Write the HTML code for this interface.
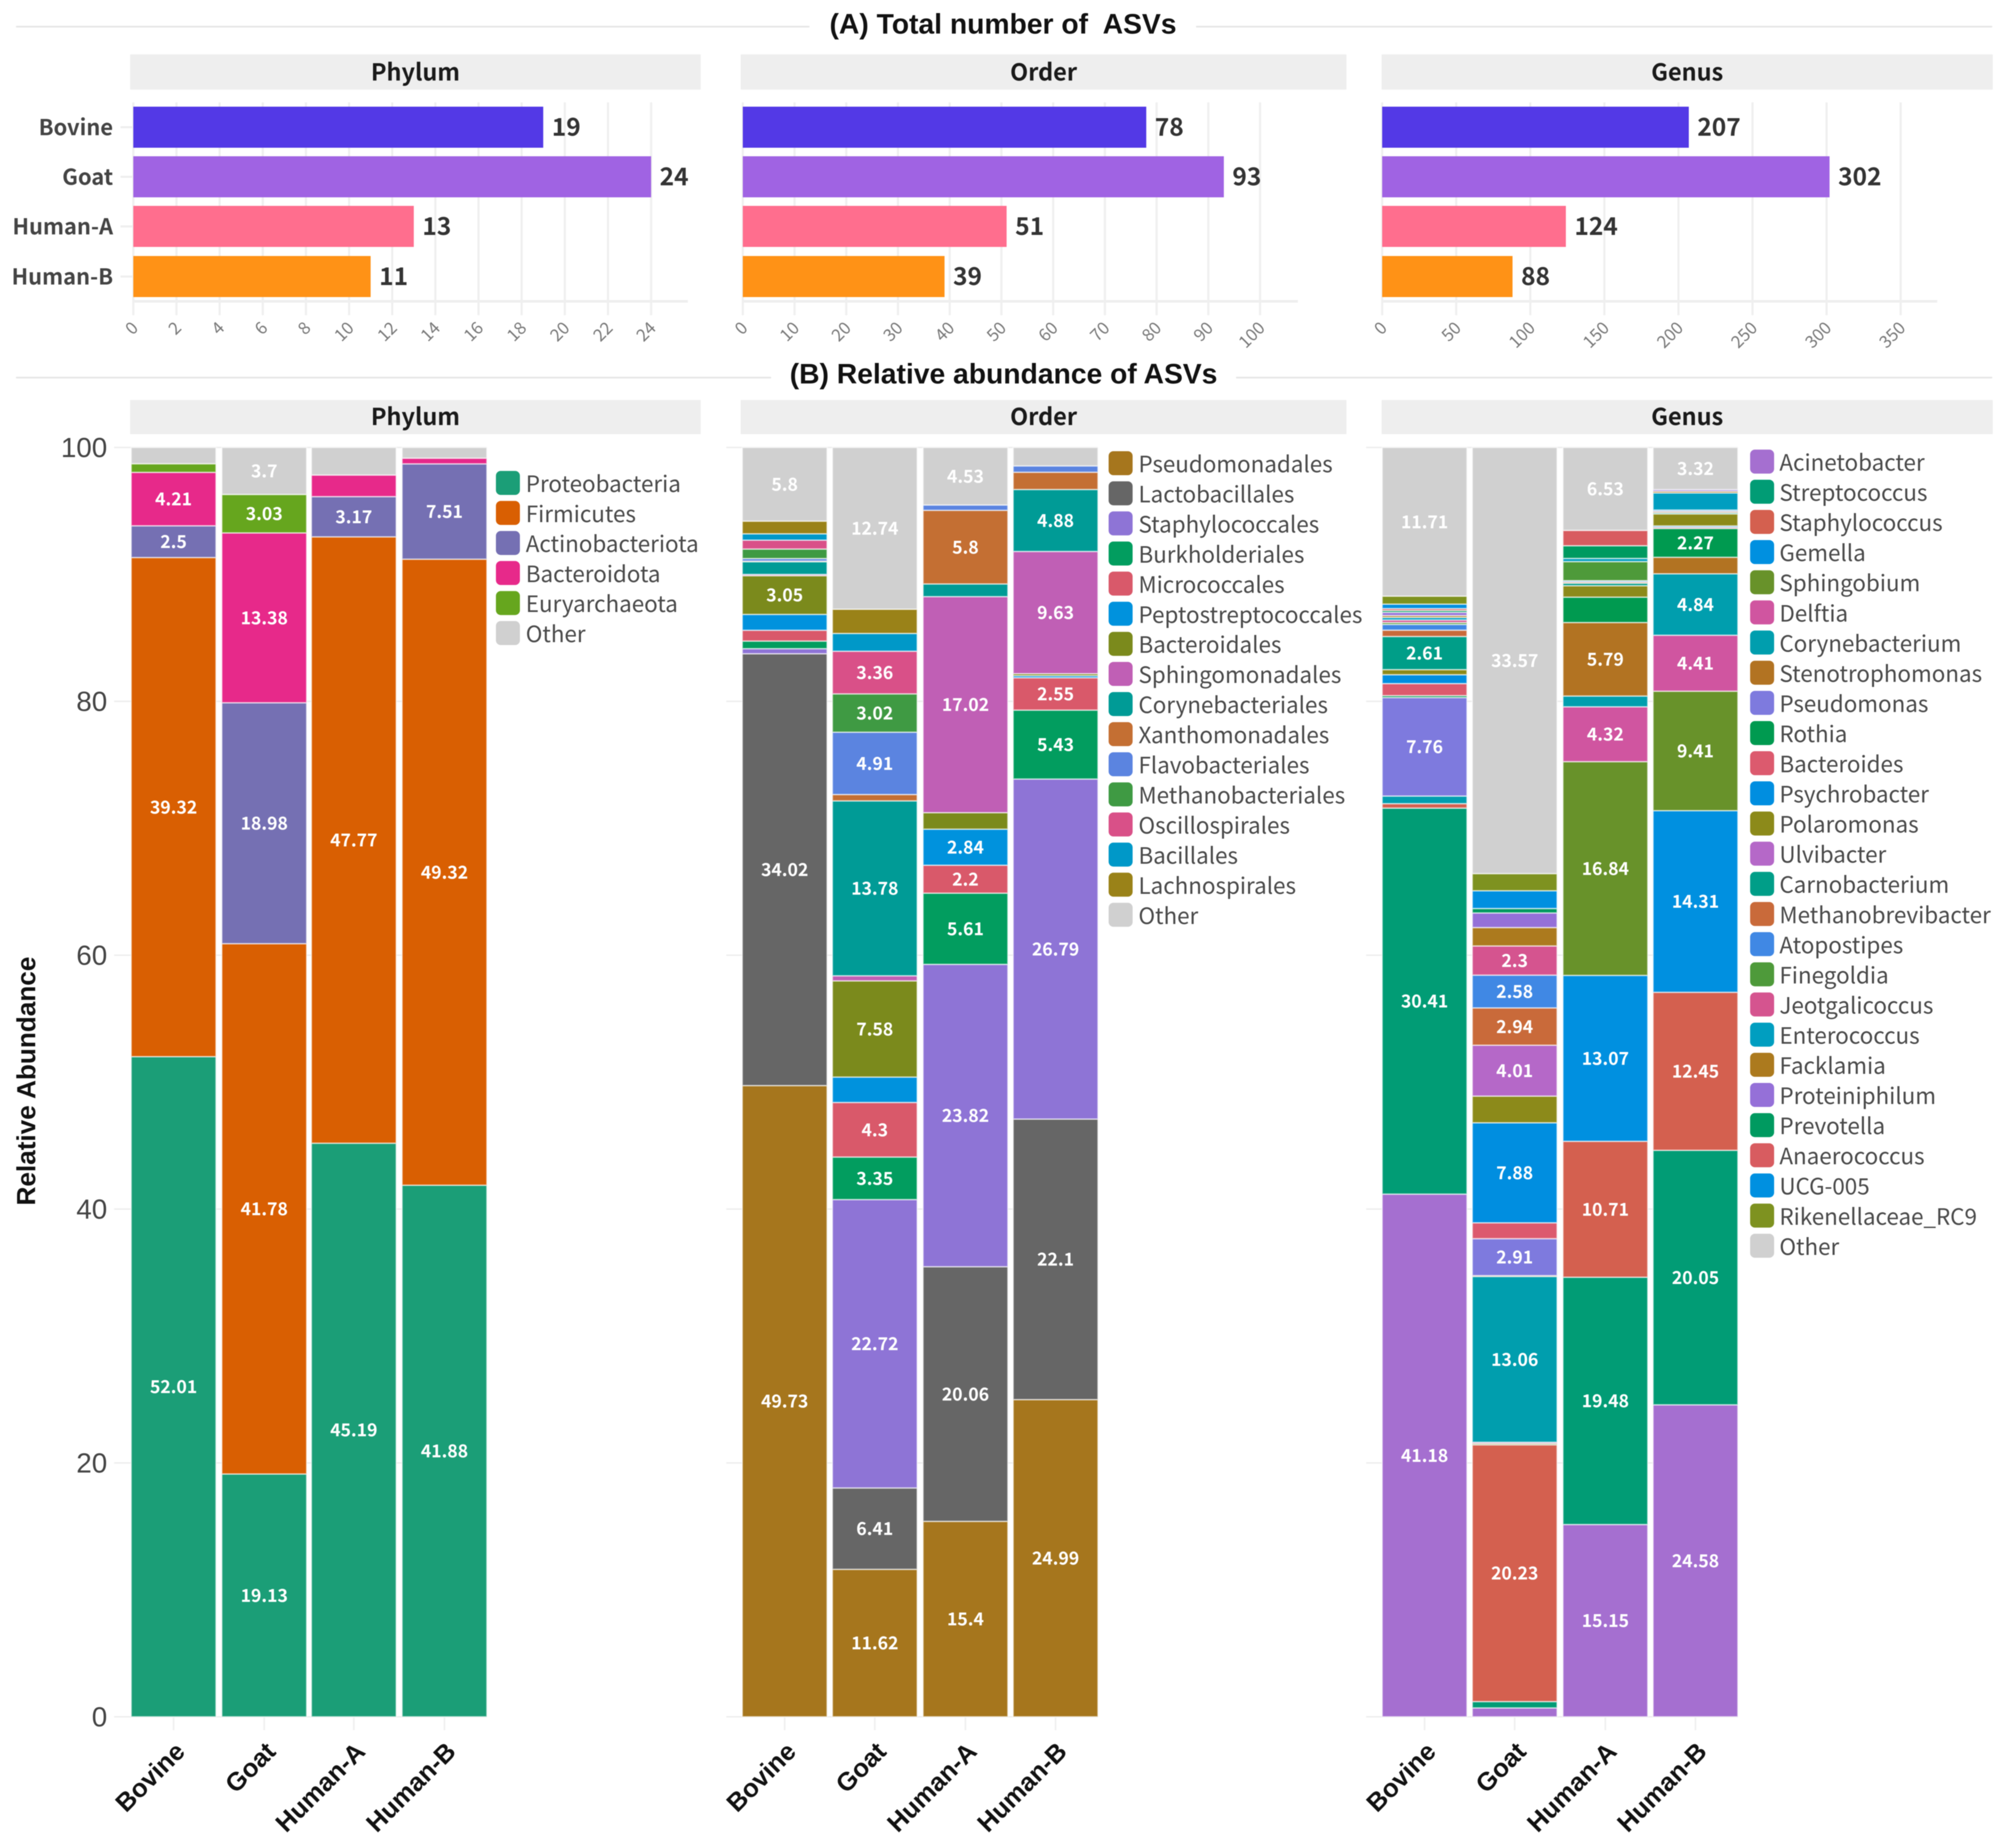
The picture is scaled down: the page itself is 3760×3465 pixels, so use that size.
<!DOCTYPE html>
<html lang="en">
<head>
<meta charset="utf-8">
<title>ASV totals and relative abundance</title>
<style>
html,body{margin:0;padding:0;background:#fff;width:3760px;height:3465px;overflow:hidden}
svg{display:block;filter:blur(0.9px)}
.cjk{font-family:"Noto Sans CJK JP","Liberation Sans",sans-serif}
.lib{font-family:"Liberation Sans",sans-serif}
</style>
</head>
<body>
<svg id="fig" xmlns="http://www.w3.org/2000/svg" width="3760" height="3465" viewBox="0 0 3760 3465">
  <rect x="0" y="0" width="3760" height="3465" fill="#ffffff"/>
  <line x1="30" x2="1518" y1="50" y2="50" stroke="#e6e6e6" stroke-width="3"/>
  <line x1="2243" x2="3736" y1="50" y2="50" stroke="#e6e6e6" stroke-width="3"/>
  <text class="lib" x="1881" y="63" font-size="53" font-weight="700" text-anchor="middle" fill="#111" style="white-space:pre">(A) Total number of  ASVs</text>
  <line x1="30" x2="1446" y1="708" y2="708" stroke="#e6e6e6" stroke-width="3"/>
  <line x1="2318" x2="3736" y1="708" y2="708" stroke="#e6e6e6" stroke-width="3"/>
  <text class="lib" x="1882" y="719" font-size="53" font-weight="700" text-anchor="middle" fill="#111" style="white-space:pre">(B) Relative abundance of ASVs</text>
  <text class="lib" transform="translate(66,2027) rotate(-90)" font-size="49" font-weight="700" text-anchor="middle" fill="#111">Relative Abundance</text>
  <g id="layer"></g>
</svg>
<script>
// ---- shared categories ----
const hosts = ["Bovine", "Goat", "Human-A", "Human-B"];
const hostColors = ["#5339e6", "#a063e3", "#ff6e8e", "#ff9216"];
const facetNames = ["Phylum", "Order", "Genus"];

// ---- (A) totals ----
const countPhylum = [19, 24, 13, 11];
const countOrder = [78, 93, 51, 39];
const countGenus = [207, 302, 124, 88];
const ticksPhylum = [0, 2, 4, 6, 8, 10, 12, 14, 16, 18, 20, 22, 24];
const ticksOrder = [0, 10, 20, 30, 40, 50, 60, 70, 80, 90, 100];
const ticksGenus = [0, 50, 100, 150, 200, 250, 300, 350];

// ---- (B) relative abundance axis ----
const abundanceTicks = [0, 20, 40, 60, 80, 100];

// ---- (B) Phylum ----
const phylumTaxa = ["Proteobacteria", "Firmicutes", "Actinobacteriota", "Bacteroidota", "Euryarchaeota", "Other"];
const phylumColors = ["#1b9e77", "#d95f02", "#7570b3", "#e7298a", "#66a61e", "#d0d0d0"];
const phylumBovine = [52.01, 39.32, 2.5, 4.21, 0.68, 1.28];
const phylumGoat = [19.13, 41.78, 18.98, 13.38, 3.03, 3.7];
const phylumHumanA = [45.19, 47.77, 3.17, 1.7, 0, 2.17];
const phylumHumanB = [41.88, 49.32, 7.51, 0.45, 0, 0.84];

// ---- (B) Order ----
const orderTaxa = ["Pseudomonadales", "Lactobacillales", "Staphylococcales", "Burkholderiales", "Micrococcales", "Peptostreptococcales", "Bacteroidales", "Sphingomonadales", "Corynebacteriales", "Xanthomonadales", "Flavobacteriales", "Methanobacteriales", "Oscillospirales", "Bacillales", "Lachnospirales", "Other"];
const orderColors = ["#a6761d", "#666666", "#8e74d6", "#029d5f", "#d9596a", "#0092dd", "#7b8a1c", "#c05fb5", "#009b96", "#c46f33", "#5b84e0", "#3f9a43", "#d95088", "#0098c8", "#9a8218", "#d0d0d0"];
const orderBovine = [49.73, 34.02, 0.4, 0.6, 0.85, 1.25, 3.05, 0.1, 1.0, 0.05, 0.2, 0.75, 0.7, 0.5, 1.0, 5.8];
const orderGoat = [11.62, 6.41, 22.72, 3.35, 4.3, 2.0, 7.58, 0.4, 13.78, 0.5, 4.91, 3.02, 3.36, 1.4, 1.91, 12.74];
const orderHumanA = [15.4, 20.06, 23.82, 5.61, 2.2, 2.84, 1.3, 17.02, 1.0, 5.8, 0.42, 0, 0, 0, 0, 4.53];
const orderHumanB = [24.99, 22.1, 26.79, 5.43, 2.55, 0.16, 0.16, 9.63, 4.88, 1.36, 0.5, 0, 0, 0, 0, 1.45];

// ---- (B) Genus ----
const genusTaxa = ["Acinetobacter", "Streptococcus", "Staphylococcus", "Gemella", "Sphingobium", "Delftia", "Corynebacterium", "Stenotrophomonas", "Pseudomonas", "Rothia", "Bacteroides", "Psychrobacter", "Polaromonas", "Ulvibacter", "Carnobacterium", "Methanobrevibacter", "Atopostipes", "Finegoldia", "Jeotgalicoccus", "Enterococcus", "Facklamia", "Proteiniphilum", "Prevotella", "Anaerococcus", "UCG-005", "Rikenellaceae_RC9", "Other"];
const genusColors = ["#a56fd0", "#019c75", "#d4604f", "#0090e0", "#68922a", "#d055a0", "#009eae", "#b27322", "#7e7ade", "#009a50", "#dc5a6e", "#008ee0", "#8c8a1a", "#b568c8", "#009e88", "#c96a3a", "#4088e4", "#4e9a3a", "#d5548f", "#009ec0", "#ac7a1e", "#9570d8", "#009a60", "#d85c60", "#0090e0", "#7e9220", "#d0d0d0"];
const genusBovine = [41.18, 30.41, 0.35, 0, 0, 0, 0.6, 0, 7.76, 0.15, 0.95, 0.7, 0.4, 0, 2.61, 0.5, 0.45, 0.15, 0.2, 0.2, 0.15, 0.25, 0.15, 0.15, 0.35, 0.63, 11.71];
const genusGoat = [0.7, 0.5, 20.23, 0, 0.1, 0.1, 13.06, 0.07, 2.91, 0, 1.25, 7.88, 2.1, 4.01, 0, 2.94, 2.58, 0, 2.3, 0, 1.45, 1.15, 0.35, 0, 1.4, 1.35, 33.57];
const genusHumanA = [15.15, 19.48, 10.71, 13.07, 16.84, 4.32, 0.85, 5.79, 0, 2.0, 0, 0, 0.9, 0, 0.2, 0.1, 0.1, 1.5, 0, 0.25, 0, 0, 1.0, 1.21, 0, 0, 6.53];
const genusHumanB = [24.58, 20.05, 12.45, 14.31, 9.41, 4.41, 4.84, 1.3, 0, 2.27, 0.1, 0.1, 0.95, 0, 0.1, 0.1, 0.1, 0, 0, 1.35, 0.13, 0.13, 0, 0, 0, 0, 3.32];

const countSets = [countPhylum, countOrder, countGenus];
const tickSets = [ticksPhylum, ticksOrder, ticksGenus];
const taxaSets = [phylumTaxa, orderTaxa, genusTaxa];
const colorSets = [phylumColors, orderColors, genusColors];
const stackSets = [
  [phylumBovine, phylumGoat, phylumHumanA, phylumHumanB],
  [orderBovine, orderGoat, orderHumanA, orderHumanB],
  [genusBovine, genusGoat, genusHumanA, genusHumanB]
];

// ---- layout ----
const SVGNS = "http://www.w3.org/2000/svg";
const layer = document.getElementById("layer");
const GRID = "#efefef";
const panelLayout = [
  { stripL: 244, stripR: 1314, x0: 250, unit: 40.46, axisR: 1290, barL: [246, 416, 584, 754], legendSw: 930, legendTx: 986, legendTop: 883, legendStep: 56.3 },
  { stripL: 1389, stripR: 2525, x0: 1393, unit: 9.70, axisR: 2434, barL: [1392, 1561, 1731, 1900], legendSw: 2079, legendTx: 2135, legendTop: 846, legendStep: 56.45 },
  { stripL: 2591, stripR: 3737, x0: 2592, unit: 2.778, axisR: 3633, barL: [2592, 2761, 2931, 3100], legendSw: 3282, legendTx: 3337, legendTop: 843, legendStep: 56.55 }
];
const BAR_W = 159;
const hBarTop = [200, 293, 386, 480];
const hBarH = 77;
const yAbund = v => 3219 - v * 23.8;

function mk(tag, attrs, parent, text) {
  const el = document.createElementNS(SVGNS, tag);
  for (const k in attrs) el.setAttribute(k, attrs[k]);
  if (text !== undefined) el.textContent = text;
  (parent || layer).appendChild(el);
  return el;
}

facetNames.forEach((facet, p) => {
  const L = panelLayout[p];
  const key = facet.toLowerCase();
  const xA = v => L.x0 + v * L.unit;

  // strips
  [[102, 66, 132, "a"], [750, 64, 778, "b"]].forEach(s => {
    const strip = mk("rect", { x: L.stripL, y: s[0], width: L.stripR - L.stripL, height: s[1], fill: "#eeeeee" });
    
    
    const st = mk("text", { x: (L.stripL + L.stripR) / 2, y: s[2], "font-size": 44, "font-weight": 700, "text-anchor": "middle", "dominant-baseline": "central", fill: "#1a1a1a", class: "cjk" }, layer, facet);
    
    
  });

  // (A) grid + ticks
  tickSets[p].forEach(t => {
    const g = mk("line", { x1: xA(t), x2: xA(t), y1: 192, y2: 591, stroke: GRID, "stroke-width": 4 });
    
    
    const lab = mk("text", { transform: "translate(" + (xA(t) + 11) + ",617) rotate(-45)", "font-size": 32, "text-anchor": "end", fill: "#7a7a7a", class: "cjk" }, layer, String(t));
    
    
  });
  const baseA = mk("line", { x1: L.x0, x2: L.axisR, y1: 565, y2: 565, stroke: GRID, "stroke-width": 5 });
  
  

  // (A) bars
  countSets[p].forEach((v, i) => {
    if (p === 0) {
      const tk = mk("line", { x1: 226, x2: 250, y1: hBarTop[i] + hBarH / 2, y2: hBarTop[i] + hBarH / 2, stroke: GRID, "stroke-width": 4 });
      
      
      const cl = mk("text", { x: 212, y: hBarTop[i] + hBarH / 2 - 3, "font-size": 41, "font-weight": 700, "text-anchor": "end", "dominant-baseline": "central", fill: "#444444", class: "cjk" }, layer, hosts[i]);
      
      
    }
    const bar = mk("rect", { x: xA(0), y: hBarTop[i], width: xA(v) - xA(0), height: hBarH, fill: hostColors[i] });
    
    
    const vl = mk("text", { x: xA(v) + 16, y: hBarTop[i] + hBarH / 2 - 3, "font-size": 46, "font-weight": 700, "dominant-baseline": "central", fill: "#333333", class: "cjk" }, layer, String(v));
    
    
  });

  // (B) grid
  const gridL = p === 0 ? 214 : L.barL[0] - 30;
  const gridR = L.barL[3] + BAR_W;
  abundanceTicks.forEach(t => {
    const g = mk("line", { x1: gridL, x2: gridR, y1: yAbund(t), y2: yAbund(t), stroke: GRID, "stroke-width": 3 });
    
    
    if (p === 0) {
      const yl = mk("text", { x: 201, y: yAbund(t) + 18, "font-size": 52, "text-anchor": "end", fill: "#444444", class: "lib" }, layer, String(t));
      
      
    }
  });

  // (B) stacks
  stackSets[p].forEach((vals, c) => {
    const left = L.barL[c];
    const cx = left + BAR_W / 2;
    const vg = mk("line", { x1: cx, x2: cx, y1: yAbund(100), y2: 3244, stroke: GRID, "stroke-width": 3 });
    
    
    let cum = 0;
    const labels = [];
    vals.forEach((v, s) => {
      if (v > 0) {
        const seg = mk("rect", { x: left, y: yAbund(cum + v), width: BAR_W, height: v * 23.8, fill: colorSets[p][s], stroke: "#ffffff", "stroke-opacity": 0.6, "stroke-width": 2.5 });
        
        
        if (v >= 2.2) labels.push([v, cum + v / 2]);
      }
      cum += v;
    });
    labels.forEach(l => {
      const t = mk("text", { x: cx, y: yAbund(l[1]) - 2, "font-size": 33, "font-weight": 700, "text-anchor": "middle", "dominant-baseline": "central", fill: "#ffffff", class: "cjk" }, layer, String(l[0]));
      
      
    });
    const xl = mk("text", { transform: "translate(" + (cx + 24) + ",3287) rotate(-45)", "font-size": 48, "font-weight": 700, "text-anchor": "end", fill: "#111111", class: "lib" }, layer, hosts[c]);
    
    
  });

  // legend
  taxaSets[p].forEach((name, i) => {
    const top = L.legendTop + i * L.legendStep;
    const sw = mk("rect", { x: L.legendSw, y: top, width: 45, height: 45, rx: 9, fill: colorSets[p][i] });
    
    
    const lt = mk("text", { x: L.legendTx, y: top + 22, "font-size": 42, "dominant-baseline": "central", fill: "#4a4a4a", class: "cjk" }, layer, name);
    
    
  });
});
</script>
</body>
</html>
